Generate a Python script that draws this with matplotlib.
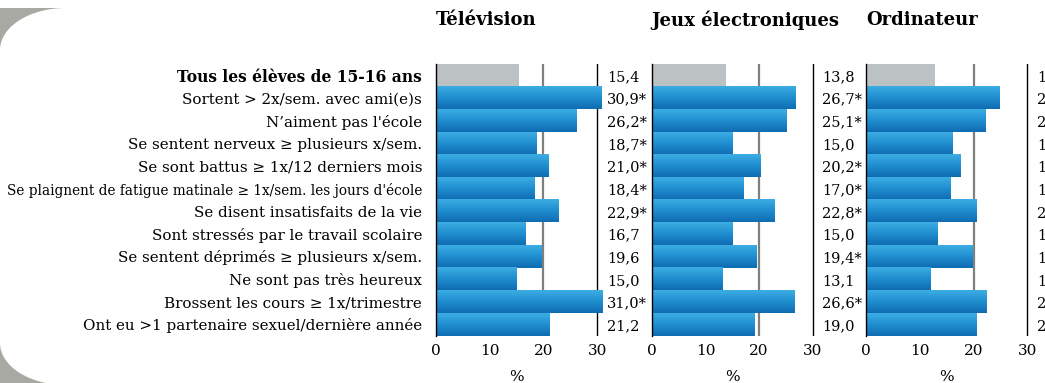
import numpy as np
import matplotlib.pyplot as plt
from matplotlib.colors import LinearSegmentedColormap
from matplotlib.patches import Rectangle, Ellipse
from matplotlib.transforms import blended_transform_factory

plt.rcParams['font.family'] = ['DejaVu Serif']

categories = [
    "Tous les élèves de 15-16 ans",
    "Sortent > 2x/sem. avec ami(e)s",
    "N’aiment pas l'école",
    "Se sentent nerveux ≥ plusieurs x/sem.",
    "Se sont battus ≥ 1x/12 derniers mois",
    "Se plaignent de fatigue matinale ≥ 1x/sem. les jours d'école",
    "Se disent insatisfaits de la vie",
    "Sont stressés par le travail scolaire",
    "Se sentent déprimés ≥ plusieurs x/sem.",
    "Ne sont pas très heureux",
    "Brossent les cours ≥ 1x/trimestre",
    "Ont eu >1 partenaire sexuel/dernière année",
]

titles = ["Télévision", "Jeux électroniques", "Ordinateur"]

television = [15.4, 30.9, 26.2, 18.7, 21.0, 18.4, 22.9, 16.7, 19.6, 15.0, 31.0, 21.2]
television_sig = [0, 1, 1, 1, 1, 1, 1, 0, 0, 0, 1, 0]

jeux = [13.8, 26.7, 25.1, 15.0, 20.2, 17.0, 22.8, 15.0, 19.4, 13.1, 26.6, 19.0]
jeux_sig = [0, 1, 1, 0, 1, 1, 1, 0, 1, 0, 1, 0]

ordinateur = [12.8, 24.9, 22.3, 16.1, 17.6, 15.8, 20.6, 13.3, 19.9, 12.0, 22.5, 20.6]
ordinateur_sig = [0, 1, 1, 1, 1, 1, 1, 0, 1, 0, 1, 1]

ticks = [0, 10, 20, 30]

W, H = 1045, 383
fig = plt.figure(figsize=(W / 100, H / 100), dpi=100)

# grey rounded frame on the left edge
bg = fig.add_axes([0, 0, 1, 1])
bg.set_xlim(0, W)
bg.set_ylim(H, 0)
bg.axis('off')
bg.add_patch(Rectangle((0, 8), 66, 42, color='#a9a9a3', lw=0))
bg.add_patch(Ellipse((66, 50), 132, 84, color='white', lw=0))
bg.add_patch(Rectangle((0, 343), 66, 45, color='#a9a9a3', lw=0))
bg.add_patch(Ellipse((66, 343), 132, 84, color='white', lw=0))

blues = LinearSegmentedColormap.from_list('blues', ['#3cade3', '#1f8ecf', '#0f6cb2'])
grad = np.linspace(0, 1, 64).reshape(-1, 1)

series = [(television, television_sig), (jeux, jeux_sig), (ordinateur, ordinateur_sig)]
lefts = [436, 651.7, 866.3]
xmax = 31.2
px_per_unit = 5.37
top_px, bottom_px = 64, 335.7
n = len(categories)
row_px = (bottom_px - top_px) / n

for k, ((vals, sig), left) in enumerate(zip(series, lefts)):
    ax = fig.add_axes([left / W, 1 - bottom_px / H, xmax * px_per_unit / W, (bottom_px - top_px) / H])
    ax.set_zorder(2)
    ax.patch.set_alpha(0)
    for i, v in enumerate(vals):
        if i == 0:
            ax.barh(i, v, height=1.0, color='#bcc2c4', zorder=1)
        else:
            ax.imshow(grad, extent=(0, v, i + 0.5, i - 0.5), aspect='auto', cmap=blues,
                      interpolation='bilinear', zorder=1, clip_on=False)
        label = f"{v:.1f}".replace('.', ',') + ('*' if sig[i] else '')
        ax.text(31.8, i + 0.08, label, ha='left', va='center', fontsize=10.5, clip_on=False)
    ax.axvline(20, color='#7f7f7f', lw=1.6, zorder=0.5)
    ax.axvline(30, color='black', lw=1.0, zorder=0.5)
    ax.set_xlim(0, xmax)
    ax.set_ylim(n - 0.5, -0.5)
    for s in ['top', 'right', 'bottom']:
        ax.spines[s].set_visible(False)
    ax.spines['left'].set_linewidth(1.0)
    ax.set_xticks(ticks)
    ax.set_xticklabels([str(t) for t in ticks], fontsize=11)
    ax.tick_params(axis='x', length=0, pad=6)
    trans = blended_transform_factory(ax.transData, ax.transAxes)
    ax.text(15, -41 / (bottom_px - top_px), '%', transform=trans, ha='center', va='center', fontsize=11)
    ax.text(0, -0.5 - (top_px - 20) / row_px, titles[k], ha='left', va='center',
            fontsize=13, fontweight='bold')
    if k == 0:
        ax.set_yticks(range(n))
        ax.set_yticklabels(categories, fontsize=10.9)
        ylabels = ax.get_yticklabels()
        ylabels[0].set_fontweight('bold')
        ylabels[0].set_fontsize(11.2)
        ylabels[5].set_fontsize(9.85)
        ax.tick_params(axis='y', length=0, pad=10)
    else:
        ax.set_yticks([])

fig.savefig('out.png', dpi=100)
